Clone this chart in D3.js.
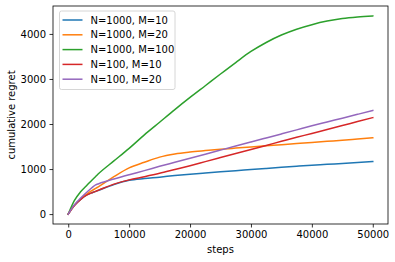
<!DOCTYPE html>
<html>
<head>
<meta charset="utf-8">
<script src="https://cdnjs.cloudflare.com/ajax/libs/d3/7.8.5/d3.min.js"></script>
<style>
  body { margin: 0; background: #fff; }
  text { font-family: "DejaVu Sans", sans-serif; fill: #000; }
</style>
</head>
<body>
<svg id="chart" width="395" height="262"></svg>
<script>
var steps = [0, 1000, 2000, 3000, 4000, 4500, 5000, 7500, 10000, 12500, 15000, 17500, 20000,
             22500, 25000, 27500, 30000, 32500, 35000, 37500, 40000, 42500, 45000, 47500, 50000];

var n1000_m10  = [0, 190, 320, 420, 480, 505, 530, 655, 750, 790, 820, 855, 885,
                  912, 938, 963, 988, 1013, 1038, 1062, 1085, 1105, 1125, 1145, 1166];
var n1000_m20  = [0, 190, 330, 440, 530, 570, 610, 830, 1025, 1150, 1265, 1335, 1378,
                  1410, 1440, 1465, 1490, 1515, 1540, 1565, 1590, 1615, 1640, 1667, 1695];
var n1000_m100 = [0, 300, 490, 630, 770, 835, 900, 1180, 1460, 1760, 2040, 2320, 2590,
                  2850, 3110, 3365, 3610, 3810, 3975, 4105, 4205, 4285, 4342, 4377, 4400];
var n100_m10   = [0, 190, 320, 420, 480, 505, 532, 665, 760, 830, 905, 990, 1075,
                  1165, 1255, 1345, 1435, 1525, 1615, 1705, 1790, 1880, 1965, 2055, 2142];
var n100_m20   = [0, 200, 350, 480, 600, 650, 675, 780, 875, 965, 1060, 1150, 1240,
                  1330, 1420, 1510, 1600, 1690, 1780, 1870, 1960, 2045, 2130, 2215, 2300];

var labels = ["N=1000, M=10", "N=1000, M=20", "N=1000, M=100", "N=100, M=10", "N=100, M=20"];
var colors = ["#1f77b4", "#ff7f0e", "#2ca02c", "#d62728", "#9467bd"];
var xTicks = [0, 10000, 20000, 30000, 40000, 50000];
var yTicks = [0, 1000, 2000, 3000, 4000];

var series = [n1000_m10, n1000_m20, n1000_m100, n100_m10, n100_m20];

var svg = d3.select("#chart");
var plotL = 53, plotR = 388, plotT = 6, plotB = 224;

var x = d3.scaleLinear().domain([-2500, 52500]).range([plotL, plotR]);
var yMax = d3.max(series, function(s) { return d3.max(s); });
var pad = yMax * 0.05;
var y = d3.scaleLinear().domain([-pad, yMax + pad]).range([plotB, plotT]);

var line = d3.line()
  .curve(d3.curveMonotoneX)
  .x(function(d, i) { return x(steps[i]); })
  .y(function(d) { return y(d); });

svg.append("g").selectAll("path")
  .data(series)
  .enter().append("path")
  .attr("d", line)
  .attr("fill", "none")
  .attr("stroke", function(d, i) { return colors[i]; })
  .attr("stroke-width", 1.5)
  .attr("stroke-linejoin", "round")
  .attr("stroke-linecap", "square");

// axes
var xAxis = svg.append("g")
  .attr("transform", "translate(0," + plotB + ")")
  .call(d3.axisBottom(x).tickValues(xTicks).tickSize(3.5).tickPadding(3.5).tickFormat(d3.format("d")));
var yAxis = svg.append("g")
  .attr("transform", "translate(" + plotL + ",0)")
  .call(d3.axisLeft(y).tickValues(yTicks).tickSize(3.5).tickPadding(3.5).tickFormat(d3.format("d")));

[xAxis, yAxis].forEach(function(a) {
  a.select(".domain").remove();
  a.selectAll(".tick line").attr("stroke", "#000").attr("stroke-width", 0.8);
  a.selectAll(".tick text").attr("font-size", 10).attr("fill", "#000")
    .style("font-family", "DejaVu Sans");
});

// frame
svg.append("rect")
  .attr("x", plotL).attr("y", plotT)
  .attr("width", plotR - plotL).attr("height", plotB - plotT)
  .attr("fill", "none").attr("stroke", "#000").attr("stroke-width", 0.8);

svg.append("text")
  .attr("x", (plotL + plotR) / 2).attr("y", 253)
  .attr("text-anchor", "middle").attr("font-size", 10)
  .text("steps");

svg.append("text")
  .attr("transform", "translate(15," + (plotT + plotB) / 2 + ") rotate(-90)")
  .attr("text-anchor", "middle").attr("font-size", 10)
  .text("cumulative regret");

// legend
var legend = svg.append("g").attr("transform", "translate(59.5,11)");
legend.append("rect")
  .attr("width", 115.5).attr("height", 78.5)
  .attr("rx", 2).attr("ry", 2)
  .attr("fill", "#fff").attr("fill-opacity", 0.8)
  .attr("stroke", "#ccc").attr("stroke-width", 0.8);

var item = legend.selectAll("g.item")
  .data(labels)
  .enter().append("g")
  .attr("class", "item")
  .attr("transform", function(d, i) { return "translate(0," + (9 + i * 14.8) + ")"; });
item.append("line")
  .attr("x1", 3).attr("x2", 23)
  .attr("stroke", function(d, i) { return colors[i]; })
  .attr("stroke-width", 1.5);
item.append("text")
  .attr("x", 31).attr("y", 3.6)
  .attr("font-size", 10)
  .text(function(d) { return d; });
</script>
</body>
</html>
